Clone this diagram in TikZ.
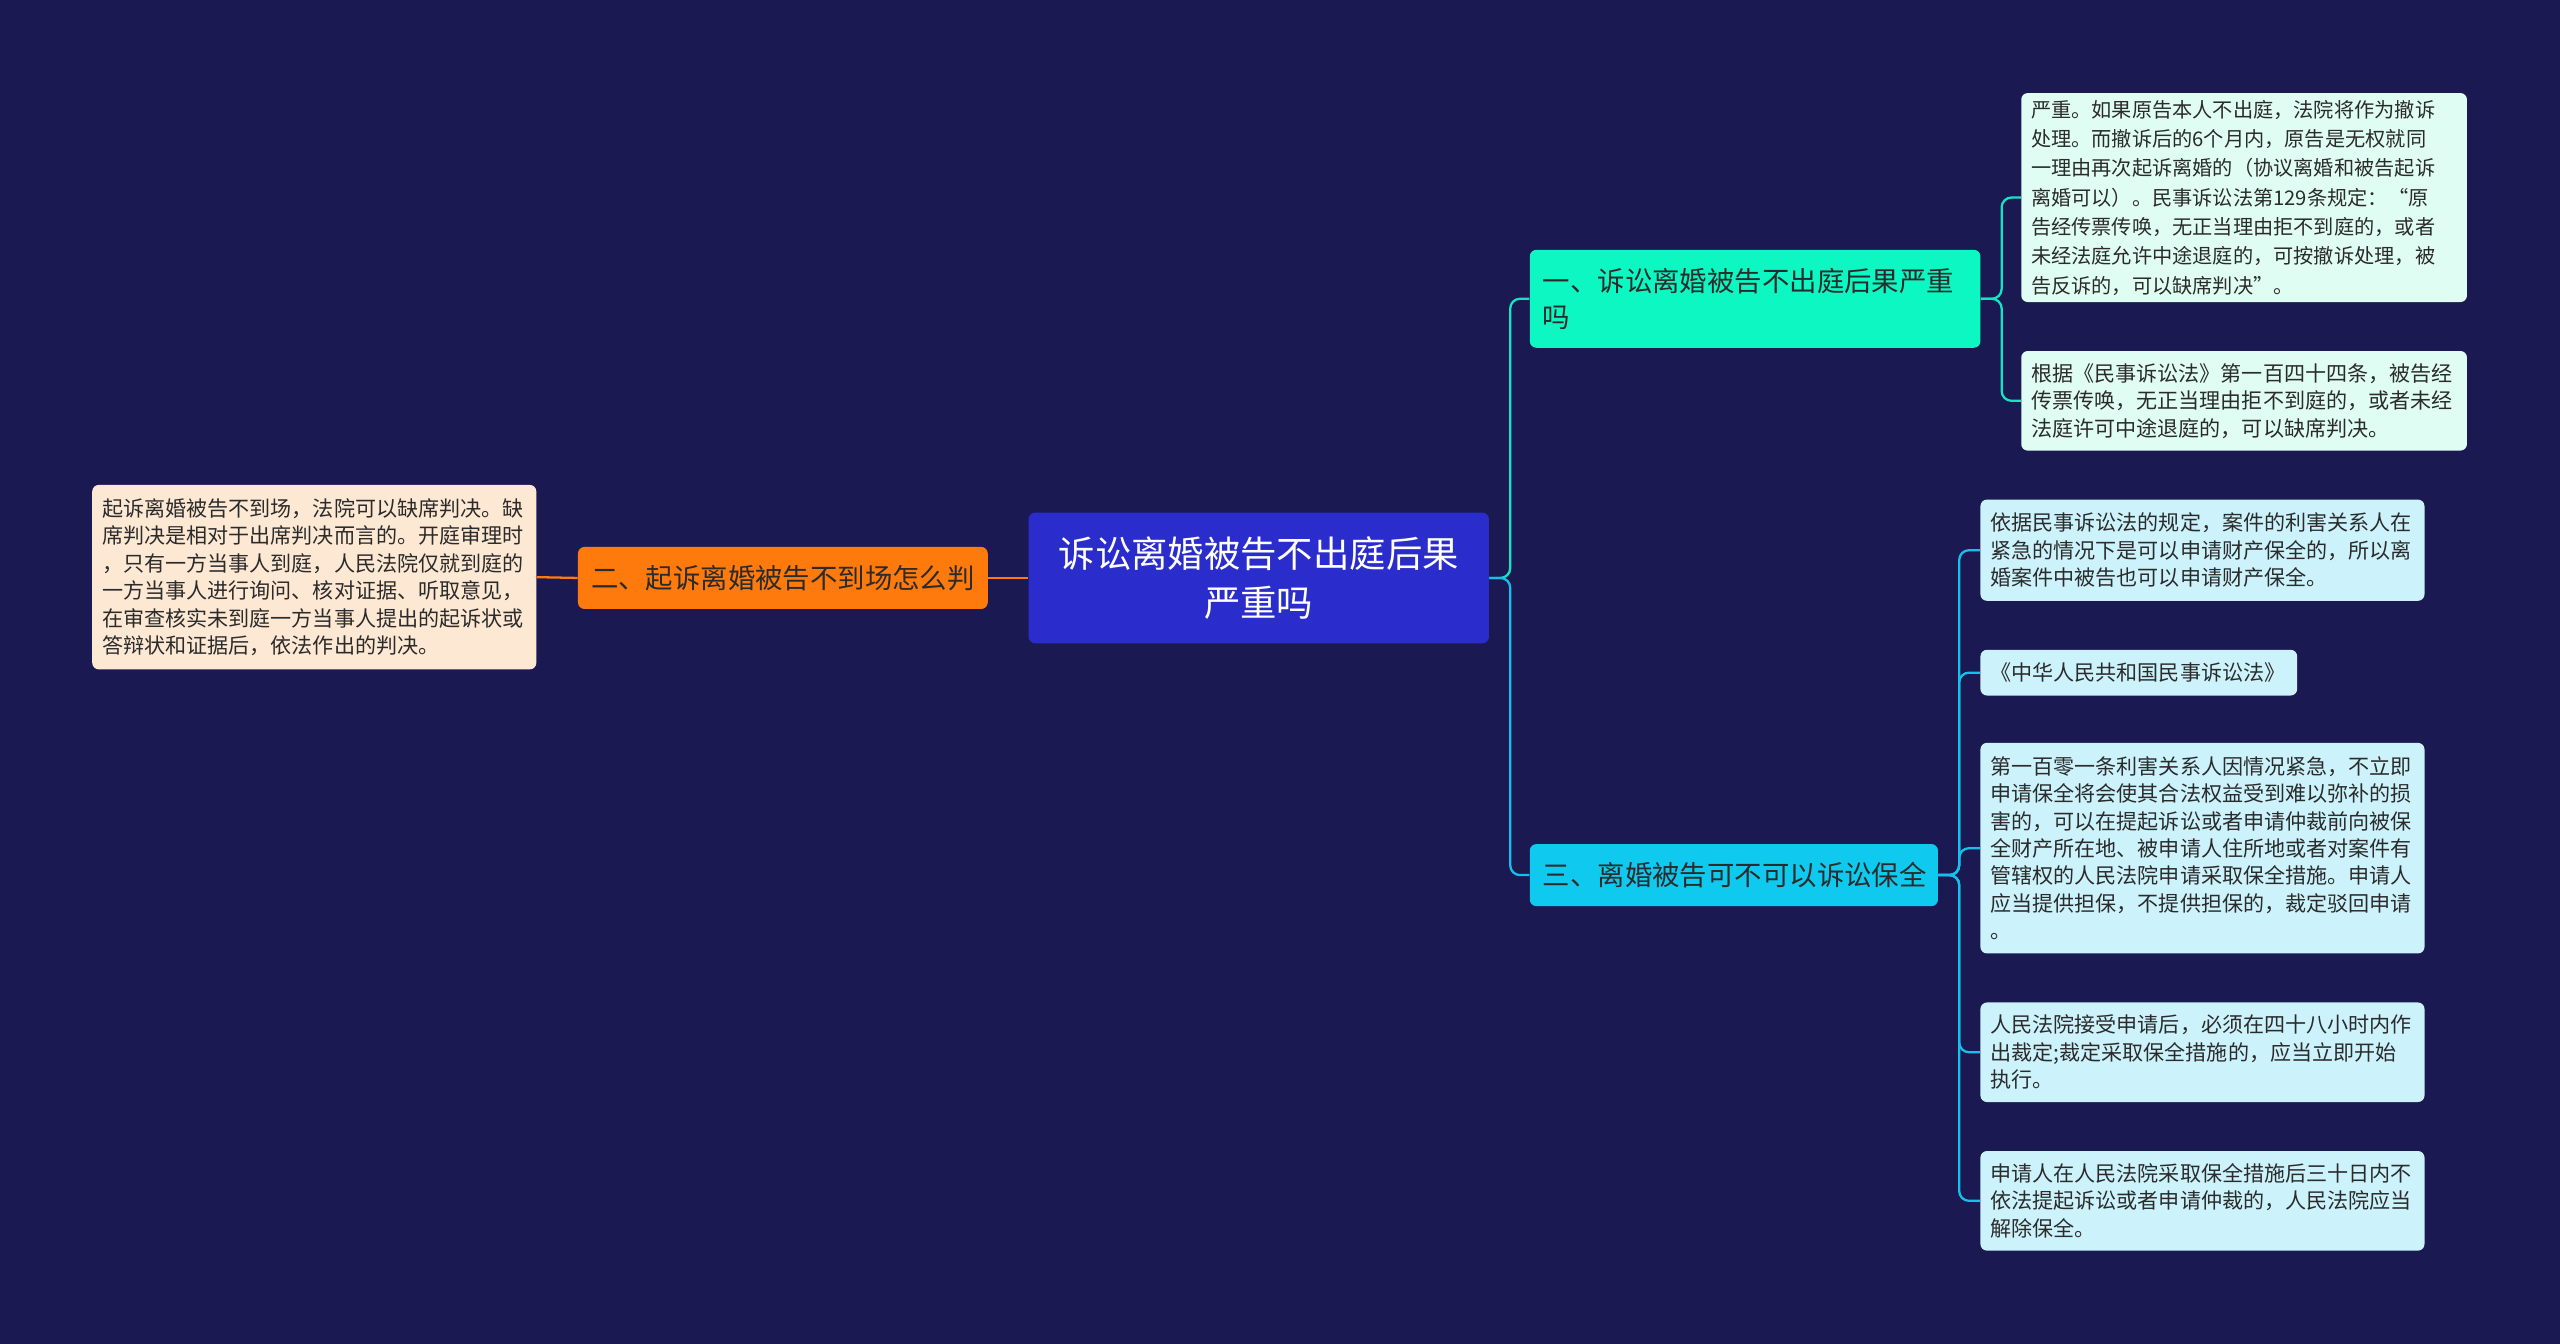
\documentclass[tikz,border=0pt]{standalone}
\usepackage{fontspec}
\setmainfont{Noto Sans CJK SC}
\usepackage{tikz}

\newlength\pxu
\setlength\pxu{0.03265cm}

\definecolor{bgnavy}{HTML}{1A1951}
\definecolor{rootblue}{HTML}{2A2DCB}
\definecolor{orangebr}{HTML}{FF7A0C}
\definecolor{peachleaf}{HTML}{FDE8D3}
\definecolor{mintbr}{HTML}{0DF7C2}
\definecolor{mintleaf}{HTML}{E0FDF3}
\definecolor{cyanbr}{HTML}{10C9EF}
\definecolor{cyanleaf}{HTML}{CCF3FC}
\definecolor{mintline}{HTML}{14E3C4}
\definecolor{cyanline}{HTML}{17C0EC}
\definecolor{darktext}{HTML}{2B2B2B}

\begin{document}
\begin{tikzpicture}[
    x=\pxu, y=-\pxu,
    box/.style={rectangle, rounded corners=4\pxu, align=left, inner xsep=6\pxu, inner ysep=0pt, text=darktext},
    leaf/.style={box, font=\fontsize{12}{15.6}\selectfont, text width=260\pxu},
    branch/.style={box, inner xsep=8\pxu, font=\fontsize{15.6}{20.4}\selectfont},
    link/.style={line width=1.3pt, rounded corners=6\pxu}
]
\fill[bgnavy] (0,0) rectangle (1568,823);
\useasboundingbox (0,0) rectangle (1568,823);

% root
\node[box, fill=rootblue, text=white, align=center, text width=270\pxu, minimum height=80\pxu,
      font=\fontsize{20.7}{28}\selectfont] (root) at (771,354) {诉讼离婚被告不出庭后果\\严重吗};

% left side
\node[branch, fill=orangebr, text width=235\pxu, minimum height=38\pxu] (b2) at (479.5,354) {二、起诉离婚被告不到场怎么判};
\node[leaf, fill=peachleaf, minimum height=113\pxu] (l2) at (192.5,353.5) {起诉离婚被告不到场，法院可以缺席判决。缺\\席判决是相对于出席判决而言的。开庭审理时\\，只有一方当事人到庭，人民法院仅就到庭的\\一方当事人进行询问、核对证据、听取意见，\\在审查核实未到庭一方当事人提出的起诉状或\\答辩状和证据后，依法作出的判决。};

% right side, first branch
\node[branch, fill=mintbr, text width=260\pxu, minimum height=60\pxu] (b1) at (1075,183) {一、诉讼离婚被告不出庭后果严重\\吗};
\node[leaf, fill=mintleaf, font=\fontsize{11.5}{16.7}\selectfont, text width=261\pxu, minimum height=128\pxu] (l1a) at (1374.5,121) {严重。如果原告本人不出庭，法院将作为撤诉\\处理。而撤诉后的6个月内，原告是无权就同\\一理由再次起诉离婚的（协议离婚和被告起诉\\离婚可以）。民事诉讼法第129条规定：“原\\告经传票传唤，无正当理由拒不到庭的，或者\\未经法庭允许中途退庭的，可按撤诉处理，被\\告反诉的，可以缺席判决”。};
\node[leaf, fill=mintleaf, text width=261\pxu, minimum height=61\pxu] (l1b) at (1374.5,245.5) {根据《民事诉讼法》第一百四十四条，被告经\\传票传唤，无正当理由拒不到庭的，或者未经\\法庭许可中途退庭的，可以缺席判决。};

% right side, third branch
\node[branch, fill=cyanbr, text width=234\pxu, minimum height=38\pxu] (b3) at (1062,536) {三、离婚被告可不可以诉讼保全};
\node[leaf, fill=cyanleaf, minimum height=62\pxu] (l3a) at (1349,337) {依据民事诉讼法的规定，案件的利害关系人在\\紧急的情况下是可以申请财产保全的，所以离\\婚案件中被告也可以申请财产保全。};
\node[leaf, fill=cyanleaf, text width=182\pxu, minimum height=28\pxu] (l3b) at (1310,412) {《中华人民共和国民事诉讼法》};
\node[leaf, fill=cyanleaf, minimum height=129\pxu] (l3c) at (1349,519.5) {第一百零一条利害关系人因情况紧急，不立即\\申请保全将会使其合法权益受到难以弥补的损\\害的，可以在提起诉讼或者申请仲裁前向被保\\全财产所在地、被申请人住所地或者对案件有\\管辖权的人民法院申请采取保全措施。申请人\\应当提供担保，不提供担保的，裁定驳回申请\\。};
\node[leaf, fill=cyanleaf, minimum height=61\pxu] (l3d) at (1349,644.5) {人民法院接受申请后，必须在四十八小时内作\\出裁定;裁定采取保全措施的，应当立即开始\\执行。};
\node[leaf, fill=cyanleaf, minimum height=61\pxu] (l3e) at (1349,735.5) {申请人在人民法院采取保全措施后三十日内不\\依法提起诉讼或者申请仲裁的，人民法院应当\\解除保全。};

% junctions
\coordinate (j0) at (925,354);
\coordinate (j1) at (1226,183);
\coordinate (j3) at (1200,536);

% connectors
\draw[link, orangebr] (l2.east) -- (b2.west);
\draw[link, orangebr] (b2.east) -- (root.west);
\draw[link, mintline] (root.east) -- (j0) |- (b1.west);
\draw[link, cyanline] (root.east) -- (j0) |- (b3.west);
\draw[link, mintline] (b1.east) -- (j1) |- (l1a.west);
\draw[link, mintline] (b1.east) -- (j1) |- (l1b.west);
\draw[link, cyanline] (b3.east) -- (j3) |- (l3a.west);
\draw[link, cyanline] (b3.east) -- (j3) |- (l3b.west);
\draw[link, cyanline] (b3.east) -- (j3) |- (l3c.west);
\draw[link, cyanline] (b3.east) -- (j3) |- (l3d.west);
\draw[link, cyanline] (b3.east) -- (j3) |- (l3e.west);
\end{tikzpicture}
\end{document}
